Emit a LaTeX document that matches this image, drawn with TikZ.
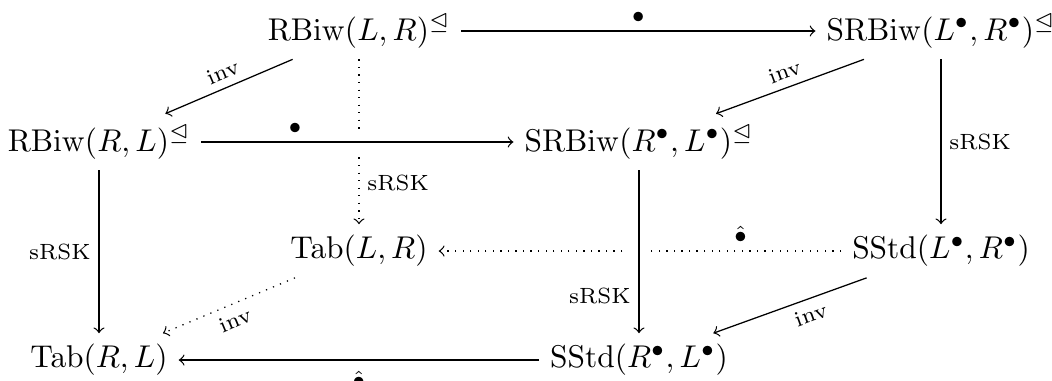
\documentclass[tikz,border=0pt]{standalone}
\usepackage{amsmath}
\usepackage{amssymb}
\usepackage{tikz}
\usetikzlibrary{positioning,calc}

\begin{document}
\begin{tikzpicture}[x=0.318pt,y=-0.318pt,
		arr/.style={->},
		dots/.style={->,dotted},
		over/.style={preaction={draw=white,-,solid,line width=1.5ex}},
		lbl/.style={font=\scriptsize,inner sep=2.5pt}]
		\useasboundingbox (0,0) rectangle (1052,380);
		% back face
		\node (rlr) at (359,31) {$\mathrm{RBiw}(L,R)^{\trianglelefteq}$};
		\node (srlr) at (941,31) {$\mathrm{SRBiw}(L^{\bullet},R^{\bullet})^{\trianglelefteq}$};
		\node (tlr) at (359,251) {$\mathrm{Tab}(L,R)$};
		\node (slr) at (941,251) {$\mathrm{SStd}(L^{\bullet},R^{\bullet})$};
		% front face
		\node (rrl) at (99,142) {$\mathrm{RBiw}(R,L)^{\trianglelefteq}$};
		\node (srrl) at (639,142) {$\mathrm{SRBiw}(R^{\bullet},L^{\bullet})^{\trianglelefteq}$};
		\node (trl) at (99,360) {$\mathrm{Tab}(R,L)$};
		\node (srl) at (639,360) {$\mathrm{SStd}(R^{\bullet},L^{\bullet})$};
		
		\draw[dots] (rlr)--(tlr) node[lbl,pos=0.75,right] {sRSK};
		\draw[dots] (slr)--(tlr) node[lbl,pos=0.25,above] {$\hat{\bullet}$};
		\draw[dots] (tlr)--(trl) node[lbl,midway,below,sloped] {inv};
		
		\draw[arr] (rlr)--(srlr) node[lbl,midway,above] {$\bullet$};
		\draw[arr] (rlr)--(rrl) node[lbl,midway,above,sloped] {inv};
		\draw[arr] (srlr)--(srrl) node[lbl,midway,above,sloped] {inv};
		\draw[arr] (srlr)--(slr) node[lbl,midway,right] {sRSK};
		\draw[arr,over] (rrl)--(srrl) node[lbl,pos=0.3,above] {$\bullet$};
		\draw[arr] (rrl)--(trl) node[lbl,midway,left] {sRSK};
		\draw[arr,over] (srrl)--(srl) node[lbl,pos=0.77,left] {sRSK};
		\draw[arr] (slr)--(srl) node[lbl,pos=0.4,below,sloped] {inv};
		\draw[arr] (srl)--(trl) node[lbl,midway,below=1pt] {$\hat{\bullet}$};
	\end{tikzpicture}
\end{document}
